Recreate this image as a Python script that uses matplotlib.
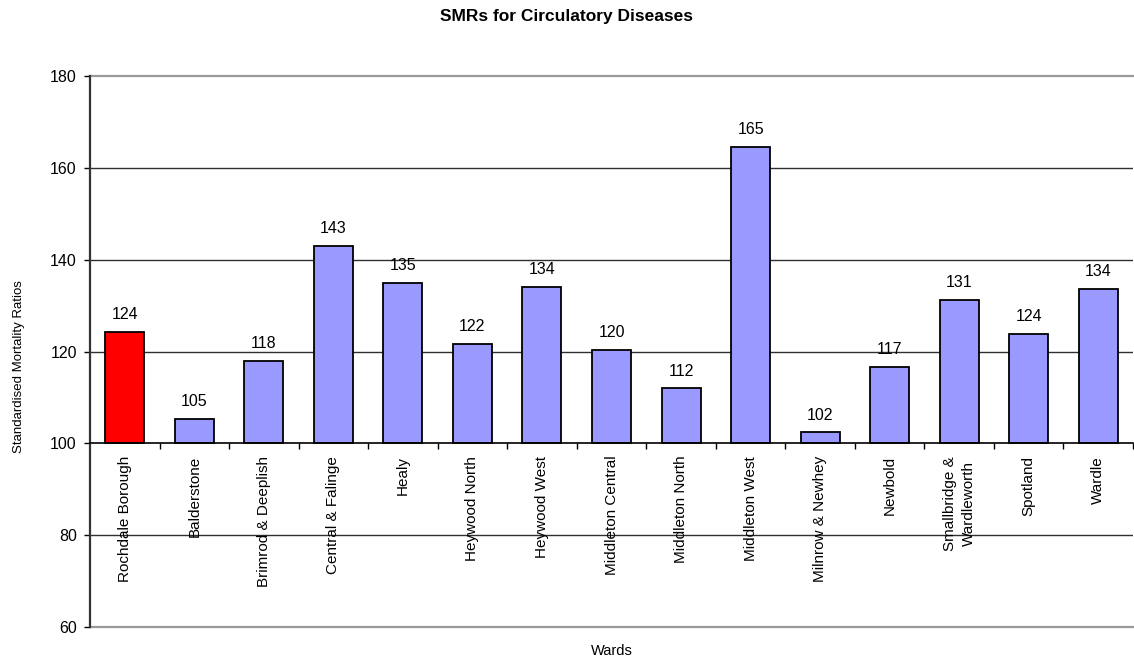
import matplotlib
matplotlib.use("Agg")
import matplotlib.pyplot as plt
from matplotlib.ticker import FixedLocator, NullFormatter, FixedFormatter

plt.rcParams['font.family'] = ['Liberation Sans', 'DejaVu Sans']

wards = ["Rochdale Borough", "Balderstone", "Brimrod & Deeplish", "Central & Falinge",
         "Healy", "Heywood North", "Heywood West", "Middleton Central", "Middleton North",
         "Middleton West", "Milnrow & Newhey", "Newbold", "Smallbridge &\nWardleworth",
         "Spotland", "Wardle"]
smr = [124.2, 105.3, 118.0, 143.0, 135.0, 121.6, 134.0, 120.4, 112.0, 164.6,
       102.4, 116.7, 131.3, 123.8, 133.7]
value_labels = ["124", "105", "118", "143", "135", "122", "134", "120", "112", "165",
                "102", "117", "131", "124", "134"]
y_ticks = [60, 80, 100, 120, 140, 160, 180]
baseline = 100

W, H = 1134, 662
fig = plt.figure(figsize=(W / 100, H / 100), dpi=100)
ax = fig.add_axes([90 / W, 1 - 627 / H, (1133 - 90) / W, (627 - 76) / H])

colors = ['#FF0000'] + ['#9999FF'] * (len(wards) - 1)
xs = list(range(len(wards)))
heights = [v - baseline for v in smr]
bars = ax.bar(xs, heights, bottom=baseline, width=0.56, color=colors,
              edgecolor='black', linewidth=1.3, zorder=3)

for x, v, lab in zip(xs, smr, value_labels):
    ax.annotate(lab, (x, v), xytext=(0, 7), textcoords='offset points',
                ha='center', va='bottom', fontsize=11.5, zorder=4)

ax.set_xlim(-0.5, len(wards) - 0.5)
ax.set_ylim(60, 180)

# y axis
ax.yaxis.set_major_locator(FixedLocator(y_ticks))
ax.tick_params(axis='y', direction='out', length=4.5, width=1, pad=5,
               labelsize=11.5, colors='black')
for y in [80, 120, 140, 160]:
    ax.axhline(y, color='#303030', linewidth=1.0, zorder=1)
ax.axhline(180, color='#999999', linewidth=1.6, zorder=1, clip_on=False)
ax.axhline(60, color='#999999', linewidth=1.6, zorder=1, clip_on=False)

# x axis crossing at 100
ax.spines['bottom'].set_position(('data', baseline))
ax.spines['bottom'].set_linewidth(1.2)
ax.spines['bottom'].set_zorder(5)
ax.spines['left'].set_linewidth(1.6)
ax.spines['left'].set_color('#333333')
ax.spines['top'].set_visible(False)
ax.spines['right'].set_visible(False)

ax.xaxis.set_major_locator(FixedLocator([i + 0.5 for i in range(len(wards))]))
ax.xaxis.set_major_formatter(NullFormatter())
ax.xaxis.set_minor_locator(FixedLocator(xs))
ax.xaxis.set_minor_formatter(FixedFormatter(wards))
ax.tick_params(axis='x', which='major', direction='out', length=4, width=1)
ax.tick_params(axis='x', which='minor', length=0, pad=9, labelsize=11,
               labelrotation=90)
for t in ax.get_xticklabels(minor=True):
    t.set_multialignment('center')
    t.set_linespacing(1.45)
    t.set_va('top')
    t.set_ha('center')

fig.text((90 + 1133) / 2 / W, 1 - 651 / H, "Wards", ha='center', va='center',
         fontsize=10.5)
fig.text(19 / W, 1 - 367 / H, "Standardised Mortality Ratios", rotation=90,
         ha='center', va='center', fontsize=9.5)
fig.text(567 / W, 1 - 17 / H, "SMRs for Circulatory Diseases", ha='center',
         va='center', fontsize=12.5, fontweight='bold')

fig.savefig("out.png", dpi=100)
